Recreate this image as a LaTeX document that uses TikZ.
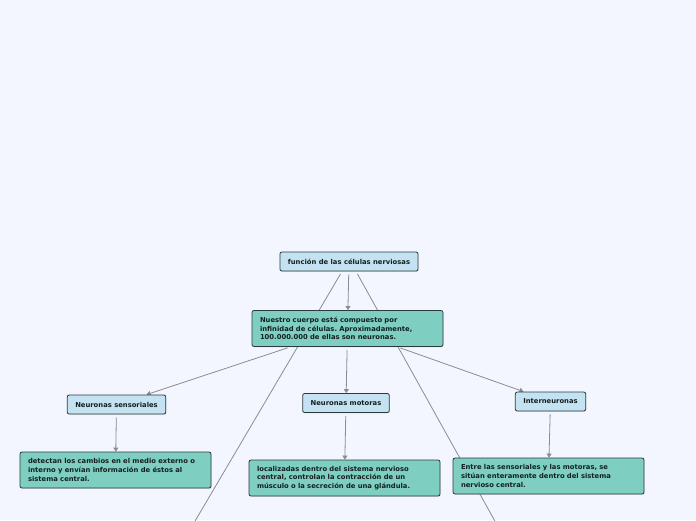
\documentclass[tikz,border=0pt]{standalone}
\usepackage{fontspec}
\setmainfont{DejaVu Sans}
\usepackage{xcolor}
\usetikzlibrary{arrows.meta,positioning,backgrounds,shadows}

\definecolor{bgpage}{HTML}{F3F6FE}
\definecolor{topicblue}{HTML}{C4E2F1}
\definecolor{noteteal}{HTML}{7ECFC1}
\definecolor{edgeline}{HTML}{2A3B3B}
\definecolor{linkgray}{HTML}{8A8C90}
\definecolor{inktext}{HTML}{14201F}

\begin{document}
\frenchspacing
\begin{tikzpicture}[
    x=1pt, y=-1pt,
    box/.style={rectangle, draw=edgeline, line width=0.8pt, rounded corners=2pt, text=inktext,
        font=\fontsize{6.8}{8.6}\selectfont\bfseries,
        drop shadow={opacity=0.2, shadow xshift=0.6pt, shadow yshift=-0.8pt}},
    topic/.style={box, fill=topicblue, minimum height=19pt, inner xsep=8pt},
    note/.style={box, fill=noteteal, minimum height=36pt, text width=175pt, inner xsep=8pt, align=left},
    link/.style={draw=linkgray, line width=0.8pt, shorten <=3pt},
    arrow/.style={link, -{Triangle[width=5pt,length=4pt]}},
]
    \useasboundingbox (0,0) rectangle (696,520);

    % Nodes
    \node[topic] (cell) at (349,261.5) {función de las células nerviosas};
    \node[note] (body) at (347.5,328.5) {Nuestro cuerpo está compuesto por\\infinidad de células. Aproximadamente,\\100.000.000 de ellas son neuronas.};

    \node[topic] (sensory) at (116.5,404.5) {Neuronas sensoriales};
    \node[topic] (motor) at (346,403) {Neuronas motoras};
    \node[topic] (inter) at (550.5,401.5) {Interneuronas};

    \node[note] (sensorytxt) at (115.5,470) {detectan los cambios en el medio externo o\\interno y envían información de éstos al\\sistema central.};
    \node[note] (motortxt) at (344.5,478) {localizadas dentro del sistema nervioso\\central, controlan la contracción de un\\músculo o la secreción de una glándula.};
    \node[note] (intertxt) at (548.5,476) {Entre las sensoriales y las motoras, se\\sitúan enteramente dentro del sistema\\nervioso central.};

    % Free ends below the page
    \coordinate (offleft) at (178,550);
    \coordinate (offright) at (511,550);

    % Connectors
    \begin{scope}[on background layer]
        \fill[bgpage] (0,0) rectangle (696,520);
        \draw[link] ([xshift=-7pt]cell.south) -- (offleft);
        \draw[link] ([xshift=7pt]cell.south) -- (offright);
        \draw[arrow] (cell) -- (body);
        \draw[arrow] ([xshift=-57pt]body.south) -- ([xshift=30pt]sensory.north);
        \draw[arrow] (body) -- (motor);
        \draw[arrow] ([xshift=50pt]body.south) -- ([xshift=-27pt]inter.north);
        \draw[arrow] (sensory) -- (sensorytxt);
        \draw[arrow] (motor) -- (motortxt);
        \draw[arrow] (inter) -- (intertxt);
    \end{scope}
\end{tikzpicture}
\end{document}
